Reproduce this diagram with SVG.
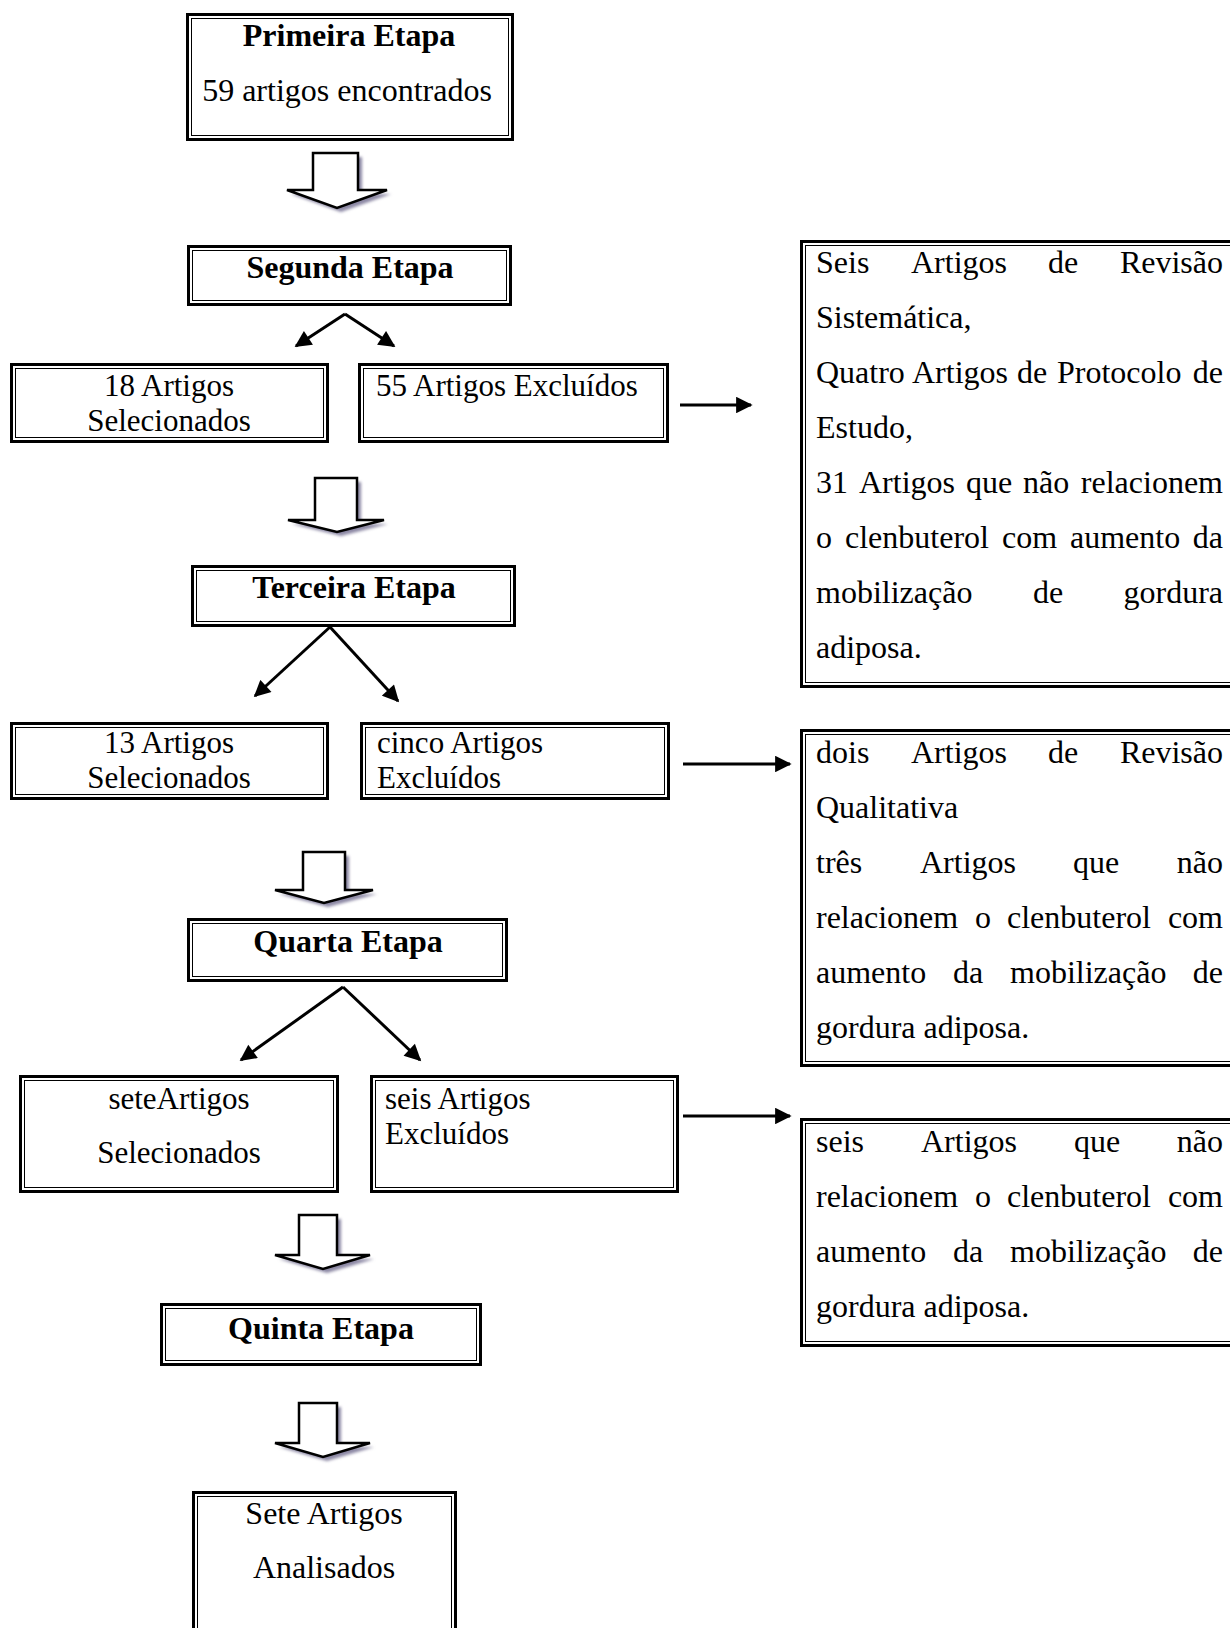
<svg xmlns="http://www.w3.org/2000/svg" width="1230" height="1628" viewBox="0 0 1230 1628">
<style>
  .o{fill:#fff;stroke:#000;stroke-width:3}
  .i{fill:none;stroke:#000;stroke-width:1}
  .t{font-family:"Liberation Serif","Times New Roman",serif;font-size:32px;fill:#000}
  .s{font-family:"Liberation Serif","Times New Roman",serif;font-size:31px;fill:#000}
  .b{font-family:"Liberation Serif","Times New Roman",serif;font-size:32px;font-weight:bold;fill:#000}
  .c{text-anchor:middle}
  .ln{stroke:#000;stroke-width:3;fill:none}
  .ha{fill:#fff;stroke:#000;stroke-width:2.5;stroke-linejoin:miter}
  .sh{fill:#8c88a4;filter:url(#blur)}
</style>
<defs>
  <marker id="ah" viewBox="0 0 10 10" refX="9" refY="5" markerWidth="6" markerHeight="5.5" orient="auto" markerUnits="strokeWidth">
    <path d="M0,0 L10,5 L0,10 z" fill="#000"/>
  </marker>
  <filter id="blur" x="-20%" y="-20%" width="140%" height="140%">
    <feGaussianBlur stdDeviation="1.6"/>
  </filter>
</defs>
<rect width="1230" height="1628" fill="#fff"/>

<g id="connectors">
  <g id="block1">
    <polygon class="sh" points="317,157 362,157 362,194 391,194 341,212 291,194 317,194"/>
    <polygon class="ha" points="313,153 358,153 358,190 387,190 337,208 287,190 313,190"/>
  </g>
  <g id="block2">
    <polygon class="sh" points="319,482 361,482 361,524 388,524 341,536 292,524 319,524"/>
    <polygon class="ha" points="315,478 357,478 357,520 384,520 337,532 288,520 315,520"/>
  </g>
  <g id="block3">
    <polygon class="sh" points="307,856 349,856 349,894 377,894 328,907 279,894 307,894"/>
    <polygon class="ha" points="303,852 345,852 345,890 373,890 324,903 275,890 303,890"/>
  </g>
  <g id="block4">
    <polygon class="sh" points="303,1219 341,1219 341,1259 374,1259 327,1273 279,1259 303,1259"/>
    <polygon class="ha" points="299,1215 337,1215 337,1255 370,1255 323,1269 275,1255 299,1255"/>
  </g>
  <g id="block5">
    <polygon class="sh" points="303,1407 341,1407 341,1447 374,1447 327,1461 279,1447 303,1447"/>
    <polygon class="ha" points="299,1403 337,1403 337,1443 370,1443 323,1457 275,1443 299,1443"/>
  </g>
  <line class="ln" x1="345" y1="314" x2="296" y2="346" marker-end="url(#ah)"/>
  <line class="ln" x1="345" y1="314" x2="394" y2="346" marker-end="url(#ah)"/>
  <line class="ln" x1="330" y1="627" x2="255" y2="696" marker-end="url(#ah)"/>
  <line class="ln" x1="330" y1="627" x2="398" y2="701" marker-end="url(#ah)"/>
  <line class="ln" x1="343" y1="987" x2="241" y2="1060" marker-end="url(#ah)"/>
  <line class="ln" x1="343" y1="987" x2="420" y2="1060" marker-end="url(#ah)"/>
  <line class="ln" x1="680" y1="405" x2="751" y2="405" marker-end="url(#ah)"/>
  <line class="ln" x1="683" y1="764" x2="790" y2="764" marker-end="url(#ah)"/>
  <line class="ln" x1="683" y1="1116" x2="790" y2="1116" marker-end="url(#ah)"/>
</g>

<g id="primeira">
  <rect class="o" x="187.5" y="14.5" width="325" height="125"/>
  <rect class="i" x="191.5" y="18.5" width="317" height="117"/>
  <text class="b c" x="349" y="46">Primeira Etapa</text>
  <text class="t c" x="347" y="101">59 artigos encontrados</text>
</g>

<g id="segunda">
  <rect class="o" x="188.5" y="246.5" width="322" height="58"/>
  <rect class="i" x="192.5" y="250.5" width="314" height="50"/>
  <text class="b c" x="350" y="278">Segunda Etapa</text>
</g>

<g id="sel18">
  <rect class="o" x="11.5" y="364.5" width="316" height="77"/>
  <rect class="i" x="15.5" y="368.5" width="308" height="69"/>
  <text class="s c" x="169" y="396">18 Artigos</text>
  <text class="s c" x="169" y="431">Selecionados</text>
</g>

<g id="exc55">
  <rect class="o" x="359.5" y="364.5" width="308" height="77"/>
  <rect class="i" x="363.5" y="368.5" width="300" height="69"/>
  <text class="s" x="376" y="396">55 Artigos Excluídos</text>
</g>

<g id="detalhe1">
  <rect class="o" x="801.5" y="241.5" width="440" height="445"/>
  <rect class="i" x="805.5" y="245.5" width="440" height="437"/>
  <text class="t" y="273"><tspan x="816">Seis</tspan><tspan x="911">Artigos</tspan><tspan x="1048">de</tspan><tspan x="1223" text-anchor="end">Revisão</tspan></text>
  <text class="t" x="816" y="328">Sistemática,</text>
  <text class="t" y="383"><tspan x="816">Quatro</tspan><tspan x="912">Artigos</tspan><tspan x="1017">de</tspan><tspan x="1057">Protocolo</tspan><tspan x="1223" text-anchor="end">de</tspan></text>
  <text class="t" x="816" y="438">Estudo,</text>
  <text class="t" y="493"><tspan x="816">31</tspan><tspan x="859">Artigos</tspan><tspan x="966">que</tspan><tspan x="1023">não</tspan><tspan x="1223" text-anchor="end">relacionem</tspan></text>
  <text class="t" y="548"><tspan x="816">o</tspan><tspan x="845">clenbuterol</tspan><tspan x="1002">com</tspan><tspan x="1070">aumento</tspan><tspan x="1223" text-anchor="end">da</tspan></text>
  <text class="t" y="603"><tspan x="816">mobilização</tspan><tspan x="1033">de</tspan><tspan x="1223" text-anchor="end">gordura</tspan></text>
  <text class="t" x="816" y="658">adiposa.</text>
</g>

<g id="terceira">
  <rect class="o" x="192.5" y="566.5" width="322" height="59"/>
  <rect class="i" x="196.5" y="570.5" width="314" height="51"/>
  <text class="b c" x="354" y="598">Terceira Etapa</text>
</g>

<g id="sel13">
  <rect class="o" x="11.5" y="723.5" width="316" height="75"/>
  <rect class="i" x="15.5" y="727.5" width="308" height="67"/>
  <text class="s c" x="169" y="753">13 Artigos</text>
  <text class="s c" x="169" y="788">Selecionados</text>
</g>

<g id="exc5">
  <rect class="o" x="361.5" y="723.5" width="307" height="75"/>
  <rect class="i" x="365.5" y="727.5" width="299" height="67"/>
  <text class="s" x="377" y="753">cinco Artigos</text>
  <text class="s" x="377" y="788">Excluídos</text>
</g>

<g id="detalhe2">
  <rect class="o" x="801.5" y="730.5" width="440" height="335"/>
  <rect class="i" x="805.5" y="734.5" width="440" height="327"/>
  <text class="t" y="763"><tspan x="816">dois</tspan><tspan x="911">Artigos</tspan><tspan x="1048">de</tspan><tspan x="1223" text-anchor="end">Revisão</tspan></text>
  <text class="t" x="816" y="818">Qualitativa</text>
  <text class="t" y="873"><tspan x="816">três</tspan><tspan x="920">Artigos</tspan><tspan x="1073">que</tspan><tspan x="1223" text-anchor="end">não</tspan></text>
  <text class="t" y="928"><tspan x="816">relacionem</tspan><tspan x="975">o</tspan><tspan x="1007">clenbuterol</tspan><tspan x="1223" text-anchor="end">com</tspan></text>
  <text class="t" y="983"><tspan x="816">aumento</tspan><tspan x="953">da</tspan><tspan x="1010">mobilização</tspan><tspan x="1223" text-anchor="end">de</tspan></text>
  <text class="t" x="816" y="1038">gordura adiposa.</text>
</g>

<g id="quarta">
  <rect class="o" x="188.5" y="919.5" width="318" height="61"/>
  <rect class="i" x="192.5" y="923.5" width="310" height="53"/>
  <text class="b c" x="348" y="952">Quarta Etapa</text>
</g>

<g id="sel7">
  <rect class="o" x="20.5" y="1076.5" width="317" height="115"/>
  <rect class="i" x="24.5" y="1080.5" width="309" height="107"/>
  <text class="s c" x="179" y="1109">seteArtigos</text>
  <text class="s c" x="179" y="1163">Selecionados</text>
</g>

<g id="exc6">
  <rect class="o" x="371.5" y="1076.5" width="306" height="115"/>
  <rect class="i" x="375.5" y="1080.5" width="298" height="107"/>
  <text class="s" x="385" y="1109">seis Artigos</text>
  <text class="s" x="385" y="1144">Excluídos</text>
</g>

<g id="detalhe3">
  <rect class="o" x="801.5" y="1119.5" width="440" height="226"/>
  <rect class="i" x="805.5" y="1123.5" width="440" height="218"/>
  <text class="t" y="1152"><tspan x="816">seis</tspan><tspan x="921">Artigos</tspan><tspan x="1074">que</tspan><tspan x="1223" text-anchor="end">não</tspan></text>
  <text class="t" y="1207"><tspan x="816">relacionem</tspan><tspan x="975">o</tspan><tspan x="1007">clenbuterol</tspan><tspan x="1223" text-anchor="end">com</tspan></text>
  <text class="t" y="1262"><tspan x="816">aumento</tspan><tspan x="953">da</tspan><tspan x="1010">mobilização</tspan><tspan x="1223" text-anchor="end">de</tspan></text>
  <text class="t" x="816" y="1317">gordura adiposa.</text>
</g>

<g id="quinta">
  <rect class="o" x="161.5" y="1304.5" width="319" height="60"/>
  <rect class="i" x="165.5" y="1308.5" width="311" height="52"/>
  <text class="b c" x="321" y="1339">Quinta Etapa</text>
</g>

<g id="final">
  <rect class="o" x="193.5" y="1492.5" width="262" height="160"/>
  <rect class="i" x="197.5" y="1496.5" width="254" height="152"/>
  <text class="t c" x="324" y="1524">Sete Artigos</text>
  <text class="t c" x="324" y="1578">Analisados</text>
</g>
</svg>
